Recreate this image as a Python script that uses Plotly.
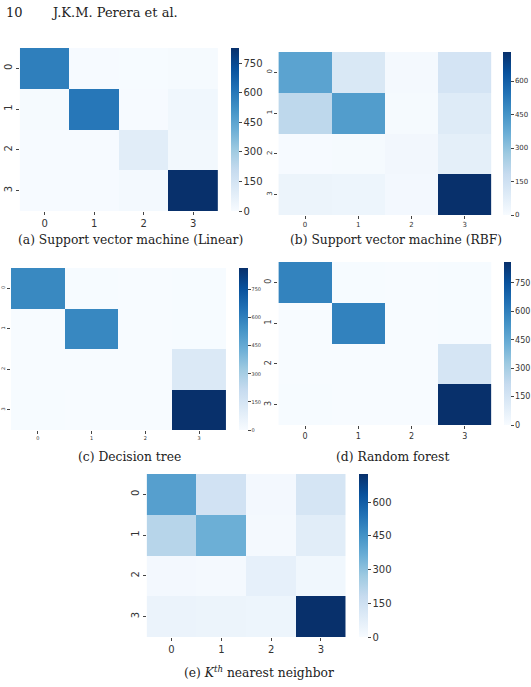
import plotly.graph_objects as go

W, H = 531, 687

classes = [0, 1, 2, 3]

svm_linear = [
    [575, 5, 3, 8],
    [8, 600, 5, 28],
    [4, 5, 90, 22],
    [5, 6, 15, 826],
]
svm_rbf = [
    [400, 110, 10, 130],
    [200, 420, 8, 90],
    [5, 6, 20, 70],
    [40, 35, 15, 730],
]
decision_tree = [
    [570, 3, 2, 3],
    [2, 575, 2, 3],
    [2, 2, 2, 120],
    [3, 2, 2, 865],
]
random_forest = [
    [585, 3, 2, 3],
    [2, 590, 2, 3],
    [2, 2, 2, 150],
    [3, 2, 2, 860],
]
knn = [
    [410, 140, 15, 125],
    [215, 360, 10, 80],
    [15, 10, 60, 25],
    [45, 40, 35, 725],
]

cb_ticks_750 = [0, 150, 300, 450, 600, 750]
cb_ticks_600 = [0, 150, 300, 450, 600]

captions = [
    "(a) Support vector machine (Linear)",
    "(b) Support vector machine (RBF)",
    "(c) Decision tree",
    "(d) Random forest",
    "(e) <i>K</i><sup><i>th</i></sup> nearest neighbor",
]

blues = [
    [0.0, "#f7fbff"], [0.125, "#deebf7"], [0.25, "#c6dbef"], [0.375, "#9ecae1"],
    [0.5, "#6baed6"], [0.625, "#4292c6"], [0.75, "#2171b5"], [0.875, "#08519c"],
    [1.0, "#08306b"],
]

# pixel layouts: heatmap (x0, x1, y0, y1), colorbar (x0, width), tick font, caption center/y
panels = [
    dict(z=svm_linear, hm=(16, 216, 48, 211), cb=(229, 8), tf=10, cbt=cb_ticks_750, cap=(128, 240)),
    dict(z=svm_rbf, hm=(277, 492, 52, 215), cb=(504, 8), tf=7, cbt=cb_ticks_600, cap=(396, 240)),
    dict(z=decision_tree, hm=(7, 224, 268, 430), cb=(237, 9), tf=5, cbt=cb_ticks_750, cap=(127, 457)),
    dict(z=random_forest, hm=(277, 492, 262, 425), cb=(505, 7), tf=8, cbt=cb_ticks_750, cap=(392, 457)),
    dict(z=knn, hm=(144, 345, 474, 637), cb=(358, 9), tf=10, cbt=cb_ticks_600, cap=(257, 672)),
]

fig = go.Figure()
layout = {}
annotations = []

for i, p in enumerate(panels):
    n = i + 1
    x0, x1, y0, y1 = p["hm"]
    cbx, cbw = p["cb"]
    xa = "x" if n == 1 else f"x{n}"
    ya = "y" if n == 1 else f"y{n}"
    zmax = max(max(r) for r in p["z"])
    fig.add_trace(go.Heatmap(
        z=p["z"], x=classes, y=classes, xaxis=xa, yaxis=ya,
        colorscale=blues, zmin=0, zmax=zmax,
        colorbar=dict(
            x=cbx / W, xanchor="left", xref="paper",
            y=1 - y1 / H, yanchor="bottom", yref="paper",
            len=(y1 - y0) / H, lenmode="fraction",
            thickness=cbw, thicknessmode="pixels",
            outlinewidth=0, xpad=0, ypad=0,
            tickvals=p["cbt"], ticks="outside", ticklen=3,
            tickcolor="#444", tickfont=dict(size=p["tf"], color="#333", family="DejaVu Sans"),
        ),
        hoverinfo="skip",
    ))
    xk = "xaxis" if n == 1 else f"xaxis{n}"
    yk = "yaxis" if n == 1 else f"yaxis{n}"
    layout[xk] = dict(
        domain=[x0 / W, x1 / W], anchor=ya, tickvals=classes, ticks="outside",
        ticklen=3, tickcolor="#444", showgrid=False, zeroline=False, showline=False,
        tickfont=dict(size=p["tf"], color="#333", family="DejaVu Sans"),
    )
    layout[yk] = dict(
        domain=[1 - y1 / H, 1 - y0 / H], anchor=xa, tickvals=classes, ticks="outside",
        ticklen=3, tickcolor="#444", showgrid=False, zeroline=False, showline=False,
        autorange="reversed", tickangle=-90,
        tickfont=dict(size=p["tf"], color="#333", family="DejaVu Sans"),
    )
    cx, cy = p["cap"]
    annotations.append(dict(
        text=captions[i], x=cx / W, y=1 - cy / H, xref="paper", yref="paper",
        xanchor="center", yanchor="middle", showarrow=False,
        font=dict(size=12.3, color="#222", family="DejaVu Serif"),
    ))

annotations.append(dict(
    text="10", x=0, y=1 - 13 / H, xref="paper", yref="paper",
    xanchor="left", yanchor="middle", showarrow=False,
    font=dict(size=13, color="#222", family="DejaVu Serif"),
))
annotations.append(dict(
    text="J.K.M. Perera et al.", x=45 / W, y=1 - 13 / H, xref="paper", yref="paper",
    xanchor="left", yanchor="middle", showarrow=False,
    font=dict(size=13, color="#222", family="DejaVu Serif"),
))

fig.update_layout(
    width=W, height=H, margin=dict(l=0, r=0, t=0, b=0),
    paper_bgcolor="white", plot_bgcolor="white",
    annotations=annotations, **layout,
)

fig.write_html("out.html")
